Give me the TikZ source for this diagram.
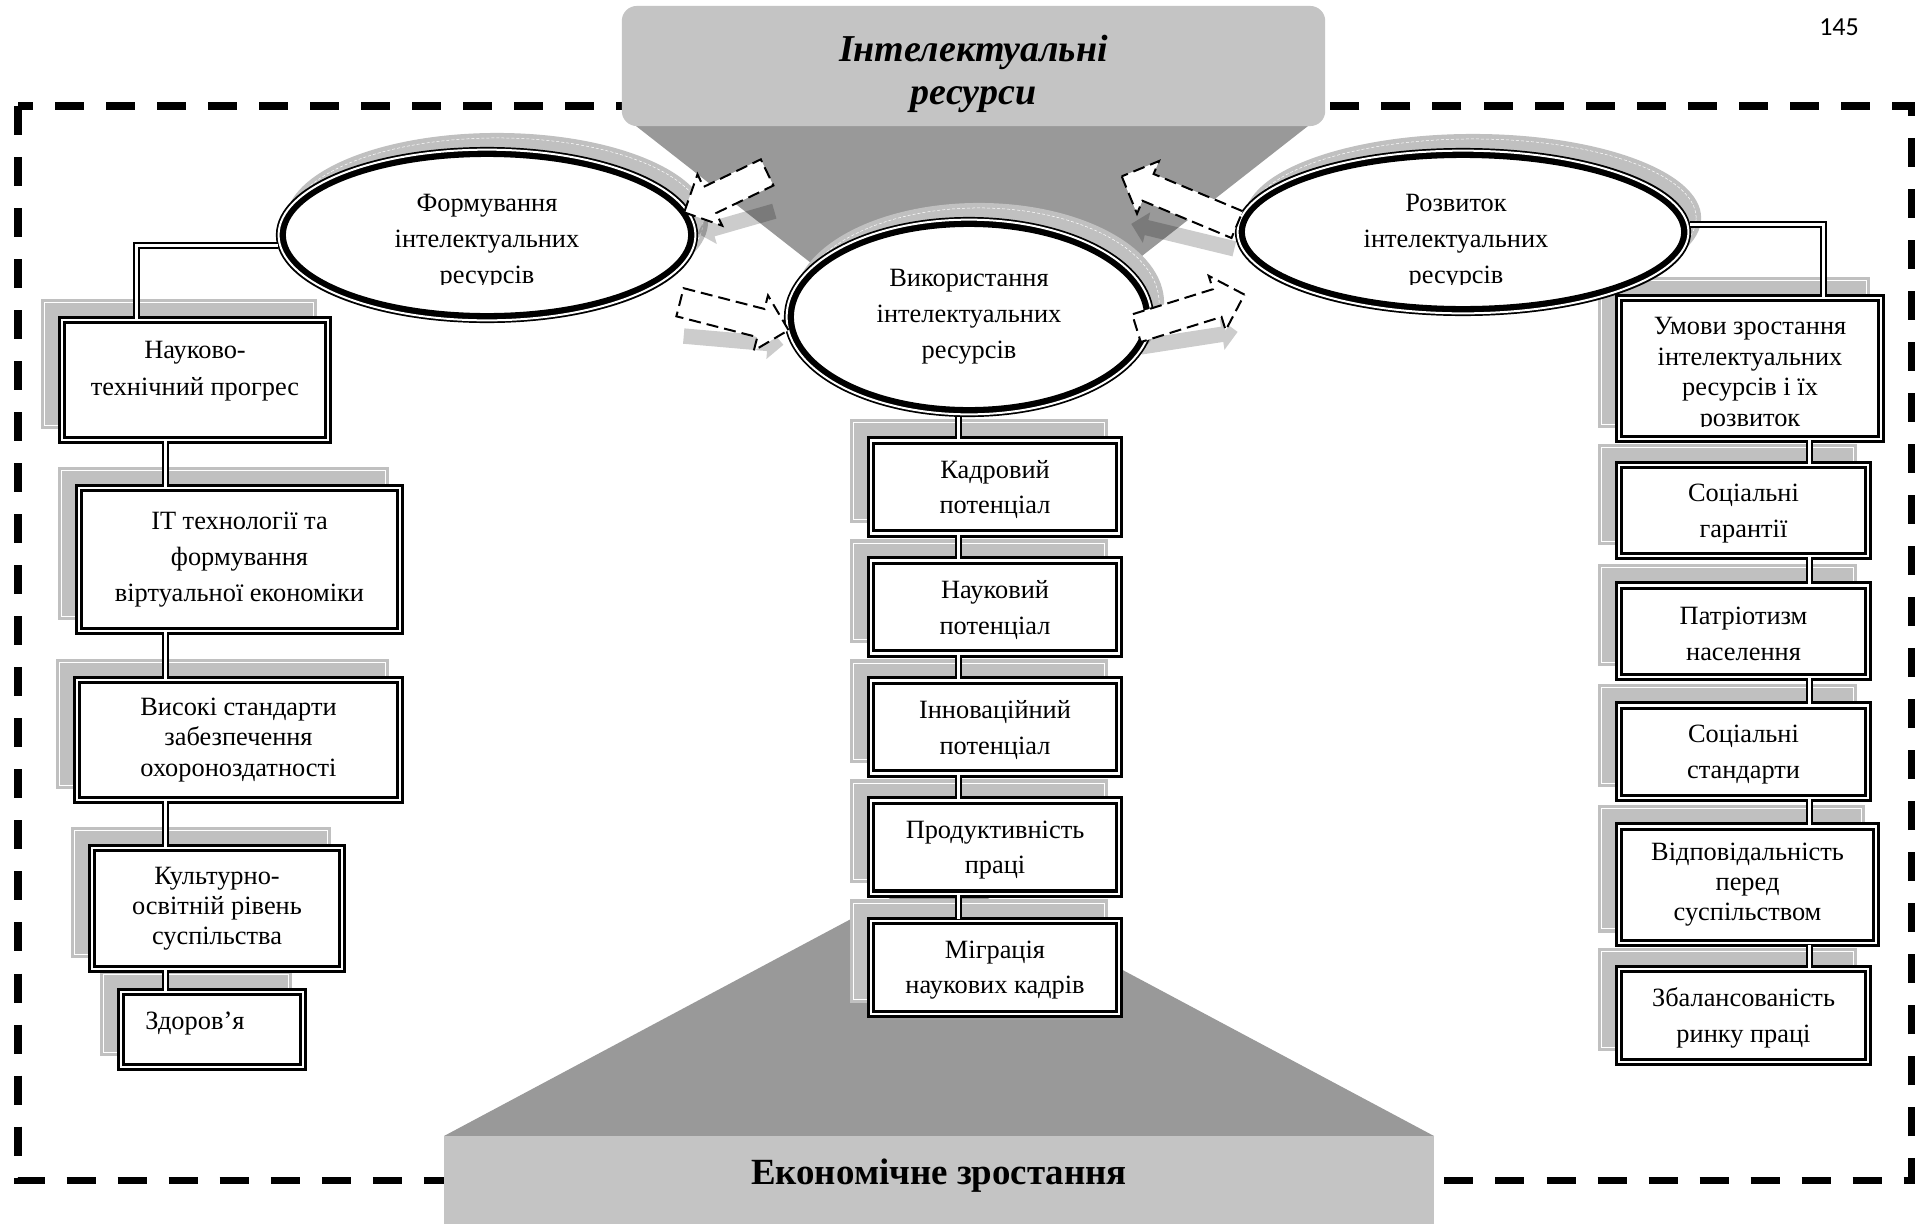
\documentclass[tikz,border=0pt]{standalone}
\usepackage{fontspec}
\setmainfont{Liberation Serif}
\newfontfamily\pagefont{Carlito}
\usetikzlibrary{shapes.geometric, shapes.arrows}
\pgfdeclarelayer{bg}
\pgfdeclarelayer{shade}
\pgfsetlayers{bg,shade,main}
\definecolor{funneldark}{RGB}{153,153,153}
\definecolor{funnellight}{RGB}{196,196,196}
\definecolor{shadegray}{RGB}{192,192,192}
\tikzstyle{txt} = [font=\fontsize{7.5}{10.2}\selectfont, align=center, inner sep=0pt]
\tikzstyle{txttight} = [font=\fontsize{7.5}{8.6}\selectfont, align=center, inner sep=0pt]
\tikzstyle{block} = [rectangle, draw=black, line width=0.03cm, double=white, double distance=0.025cm, fill=white, minimum width=2.485cm]
\tikzstyle{oval} = [ellipse, draw=black, line width=0.1cm, fill=white, inner sep=0pt]
\tikzstyle{dbl} = [draw=black, line width=0.02cm, double=white, double distance=0.03cm]
\tikzstyle{blockarrow} = [single arrow, draw=black, fill=white, line width=0.02cm, dash pattern=on 0.12cm off 0.06cm, single arrow head extend=0.14cm, inner xsep=0pt, inner ysep=0.135cm, anchor=tail]
\tikzstyle{arrowshade} = [single arrow, fill=black, opacity=0.2, single arrow head extend=0.08cm, inner xsep=0pt, inner ysep=0.07cm, anchor=tail]
\tikzstyle{bigbox} = [rectangle, fill=funnellight, inner sep=0pt, align=center]

\begin{document}
\begin{tikzpicture}[x=0.01cm, y=-0.01cm, node distance=1.2cm]
\useasboundingbox (0,0) rectangle (1919,1224);

% frame and funnels
\begin{pgfonlayer}{bg}
\fill[white] (0,0) rectangle (1919,1224);
\draw[line width=0.07cm, dash pattern=on 0.29cm off 0.22cm] (18,106) rectangle (1911,1180);
\fill[funneldark] (636,126) -- (1308,126) -- (972,389) -- cycle;
\fill[funneldark] (444,1136) -- (896,895) -- (982,895) -- (1434,1136) -- cycle;
\end{pgfonlayer}

\node (resources) [bigbox, rounded corners=0.15cm, minimum width=7.03cm, minimum height=1.20cm, font=\bfseries\itshape\fontsize{10.8}{12.2}\selectfont, text height=24pt, text depth=2.3pt] at (973.5,66) {Інтелектуальні\\ресурси};
\node (growth) [bigbox, minimum width=9.90cm, minimum height=0.88cm, font=\bfseries\fontsize{10.5}{12}\selectfont, text height=7.3pt, text depth=4.8pt] at (939,1180) {Економічне зростання};

% ellipses
\node (form) [oval, minimum width=4.12cm, minimum height=1.66cm] at (487,235) {};
\node (use) [oval, txt, minimum width=3.60cm, minimum height=1.90cm] at (969,317) {Використання\\інтелектуальних\\ресурсів};
\node (dev) [oval, minimum width=4.46cm, minimum height=1.58cm] at (1463,232) {};
\draw[white, line width=0.02cm] (form.center) ellipse (2.083cm and 0.853cm);
\draw[white, line width=0.02cm] (use.center) ellipse (1.823cm and 0.973cm);
\draw[white, line width=0.02cm] (dev.center) ellipse (2.253cm and 0.813cm);

\begin{scope}
\clip (270,150) rectangle (705,284.5);
\node (formtxt) [txt] at (487,242) {Формування\\інтелектуальних\\ресурсів};
\end{scope}
\begin{scope}
\clip (1230,150) rectangle (1700,284.5);
\node (devtxt) [txt] at (1456,242) {Розвиток\\інтелектуальних\\ресурсів};
\end{scope}

% left column
\node (l1) [block, txt, font=\fontsize{7.5}{10.5}\selectfont, minimum width=2.655cm, minimum height=1.195cm, text depth=6.5pt] at (195,380) {Науково-\\технічний прогрес};
\node (l2) [block, txt, minimum width=3.205cm, minimum height=1.425cm] at (239.5,559.5) {IT технології та\\формування\\віртуальної економіки};
\node (l3) [block, txttight, minimum width=3.225cm, minimum height=1.195cm] at (238.5,740) {Високі стандарти\\забезпечення\\охороноздатності};
\node (l4) [block, txttight, minimum width=2.495cm, minimum height=1.205cm] at (217,908.5) {Культурно-\\освітній рівень\\суспільства};
\node (l5) [block, txt, minimum width=1.815cm, minimum height=0.745cm, text height=5.2pt, text depth=5pt] at (212,1029.5) {Здоров’я\hspace*{9.7pt}};

% centre column
\node (c1) [block, txt, minimum width=2.475cm, minimum height=0.93cm, text height=16.8pt] at (995,487) {Кадровий\\потенціал};
\node (c2) [block, txt, minimum width=2.475cm, minimum height=0.93cm, text height=16.8pt, below of=c1] {Науковий\\потенціал};
\node (c3) [block, txt, minimum width=2.475cm, minimum height=0.93cm, text height=16.8pt, below of=c2] {Інноваційний\\потенціал};
\node (c4) [block, txt, minimum width=2.475cm, minimum height=0.93cm, text height=16.8pt, below of=c3] {Продуктивність\\праці};
\node (c5) [block, txt, minimum width=2.475cm, minimum height=0.93cm, text height=16.8pt, below of=c4] {Міграція\\наукових кадрів};

% right column
\node (r1) [block, minimum width=2.615cm, minimum height=1.405cm] at (1750,368.5) {};
\begin{scope}
\clip (1615,300) rectangle (1885,426.5);
\node (r1txt) [txttight, font=\fontsize{7.5}{8.7}\selectfont] at (1750,374.5) {Умови зростання\\інтелектуальних\\ресурсів і їх\\розвиток};
\end{scope}
\node (r2) [block, txt, minimum height=0.905cm, text height=16.8pt] at (1743.5,510.5) {Соціальні\\гарантії};
\node (r3) [block, txt, minimum height=0.915cm, text height=16.8pt, below of=r2, node distance=1.205cm] {Патріотизм\\населення};
\node (r4) [block, txt, minimum height=0.925cm, text height=16.8pt, below of=r3, node distance=1.205cm] {Соціальні\\стандарти};
\node (r5) [block, txttight, minimum width=2.565cm, minimum height=1.165cm, below of=r4, node distance=1.33cm, xshift=0.04cm] {Відповідальність\\перед\\суспільством};
\node (r6) [block, txt, minimum height=0.925cm, text height=16.8pt, at={(1743.5,1015.5)}] {Збалансованість\\ринку праці};

% connectors
\coordinate (lcol0) at (136,0);
\coordinate (lcol) at (165,0);
\coordinate (ccol) at (958,0);
\coordinate (rcol0) at (1823,0);
\coordinate (rcol) at (1809,0);
\draw[dbl] (form.183) -| (lcol0 |- l1.north);
\foreach \a/\b in {l1/l2, l2/l3, l3/l4, l4/l5}
  \draw[dbl] (lcol |- \a.south) -- (lcol |- \b.north);
\draw[dbl] (ccol |- use.south) -- (ccol |- c1.north);
\foreach \a/\b in {c1/c2, c2/c3, c3/c4, c4/c5}
  \draw[dbl] (ccol |- \a.south) -- (ccol |- \b.north);
\draw[dbl] (dev.2.5) -| (rcol0 |- r1.north);
\foreach \a/\b in {r1/r2, r2/r3, r3/r4, r4/r5, r5/r6}
  \draw[dbl] (rcol |- \a.south) -- (rcol |- \b.north);

% block arrows
\node (toform) [blockarrow, minimum height=0.92cm, rotate=205.7] at (768,172) {};
\node (touse) [blockarrow, minimum height=1.12cm, rotate=-14.4] at (679,302) {};
\node (todev) [blockarrow, minimum height=1.13cm, rotate=17.3] at (1135.5,328.5) {};
\node (tores) [blockarrow, minimum height=1.25cm, rotate=157.3] at (1238,225) {};

\node (pagenum) [font=\pagefont\fontsize{7.4}{9}\selectfont, inner sep=0pt] at (1839,27) {145};

% shadows
\begin{pgfonlayer}{shade}
\foreach \e/\rx/\ry/\wx/\wy in {form/2.11/0.88/2.06/0.83, use/1.85/1.00/1.80/0.95, dev/2.28/0.84/2.23/0.79} {
  \fill[shadegray] ([shift={(10,-14)}]\e.center) ellipse (\rx cm and \ry cm);
  \draw[white, line width=0.005cm, dash pattern=on 0.03cm off 0.02cm] ([shift={(10,-14)}]\e.center) ellipse (\wx cm and \wy cm);
}
\foreach \b in {l1,l2,l3,l4,l5,c1,c2,c3,c4,c5,r1,r2,r3,r4,r5,r6} {
  \fill[shadegray] ([shift={(-20,-12)}]\b.south west) rectangle ([shift={(-12,-20)}]\b.north east);
  \draw[white, line width=0.01cm] ([shift={(-16,-16)}]\b.south west) rectangle ([shift={(-16,-16)}]\b.north east);
}
\node (toformshade) [arrowshade, minimum height=0.80cm, rotate=196] at (775,211) {};
\node (touseshade) [arrowshade, minimum height=1.00cm, rotate=-5] at (683,336) {};
\node (todevshade) [arrowshade, minimum height=0.98cm, rotate=8.8] at (1140,347) {};
\node (toresshade) [arrowshade, minimum height=1.06cm, rotate=166.4] at (1235,249) {};
\end{pgfonlayer}
\end{tikzpicture}
\end{document}
